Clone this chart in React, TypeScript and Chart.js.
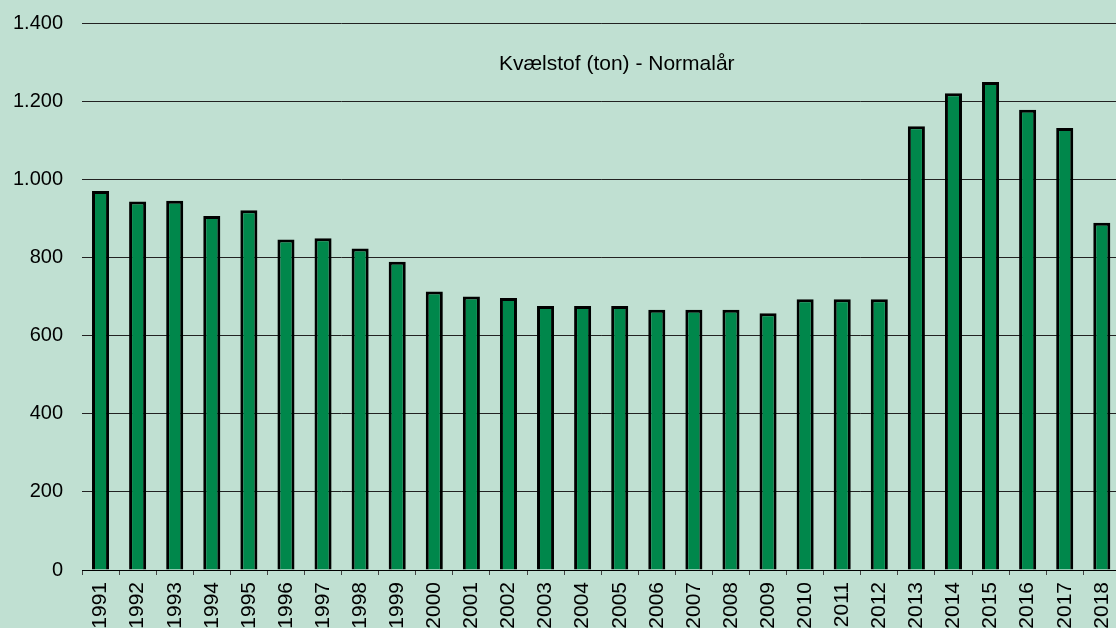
import React, { useEffect, useRef } from "react";
import { Chart, registerables } from "chart.js";

Chart.register(...registerables);

const years = [
  "1991", "1992", "1993", "1994", "1995", "1996", "1997", "1998", "1999", "2000",
  "2001", "2002", "2003", "2004", "2005", "2006", "2007", "2008", "2009", "2010",
  "2011", "2012", "2013", "2014", "2015", "2016", "2017", "2018",
];
const nitrogen = [
  970, 943, 945, 906, 921, 846, 849, 823, 789, 713,
  700, 696, 676, 676, 676, 666, 666, 666, 657, 693,
  693, 693, 1136, 1220, 1249, 1178, 1131, 889,
];
const titleText = "Kvælstof (ton) - Normalår";
const yMax = 1400;
const yStep = 200;

const BG = "#c0e0d2";
const BAR = "#00874b";
const FONT = "'Liberation Sans', Arial, sans-serif";
const W = 1134;
const H = 658;

function fmt(v: number): string {
  const s = Math.round(v).toString();
  return s.replace(/\B(?=(\d{3})+(?!\d))/g, ".");
}

export default function App() {
  const ref = useRef<HTMLCanvasElement | null>(null);
  useEffect(() => {
    if (!ref.current) return;
    const bgPlugin = {
      id: "bg",
      beforeDraw(chart: any) {
        const { ctx, width, height } = chart;
        ctx.save();
        ctx.fillStyle = BG;
        ctx.fillRect(0, 0, width, height);
        ctx.restore();
      },
    };
    const titlePlugin = {
      id: "innerTitle",
      afterDraw(chart: any) {
        const { ctx, chartArea } = chart;
        const x = chartArea.left + (chartArea.right - chartArea.left) * 0.515;
        const y = chartArea.top + 41;
        ctx.save();
        ctx.fillStyle = "#000";
        ctx.font = `21px ${FONT}`;
        ctx.textAlign = "center";
        ctx.textBaseline = "middle";
        ctx.fillText(titleText, x, y);
        ctx.restore();
      },
    };
    const chart = new Chart(ref.current, {
      type: "bar",
      data: {
        labels: years,
        datasets: [
          {
            data: nitrogen,
            backgroundColor: BAR,
            borderColor: "#000",
            borderWidth: 3,
            barPercentage: 0.46,
            categoryPercentage: 1,
          },
        ],
      },
      options: {
        animation: false,
        responsive: false,
        devicePixelRatio: 1,
        layout: { padding: { top: 15, left: 0, right: 0, bottom: 0 } },
        plugins: {
          legend: { display: false },
          tooltip: { enabled: false },
          title: { display: false },
        },
        scales: {
          x: {
            afterFit(scale: any) {
              scale.height = 80;
            },
            grid: {
              offset: true,
              drawOnChartArea: false,
              drawTicks: true,
              tickLength: 5,
              color: "#444",
            },
            border: { display: true, color: "#000", width: 1 },
            ticks: {
              autoSkip: false,
              minRotation: 90,
              maxRotation: 90,
              padding: 7,
              color: "#000",
              font: { family: FONT, size: 21 },
            },
          },
          y: {
            min: 0,
            max: yMax,
            afterFit(scale: any) {
              scale.width = 82;
            },
            grid: {
              drawTicks: false,
              color: "#222",
              lineWidth: 1,
            },
            border: { display: false },
            ticks: {
              stepSize: yStep,
              padding: 19,
              color: "#000",
              font: { family: FONT, size: 20 },
              callback: (v: any) => fmt(Number(v)),
            },
          },
        },
      },
      plugins: [bgPlugin, titlePlugin],
    });
    return () => chart.destroy();
  }, []);
  return (
    <div style={{ position: "fixed", left: 0, top: 0, width: 1116, height: 628, overflow: "hidden", background: BG }}>
      <canvas
        ref={ref}
        width={W}
        height={H}
        style={{ position: "absolute", left: 0, top: -8, width: W, height: H, display: "block" }}
      />
    </div>
  );
}
